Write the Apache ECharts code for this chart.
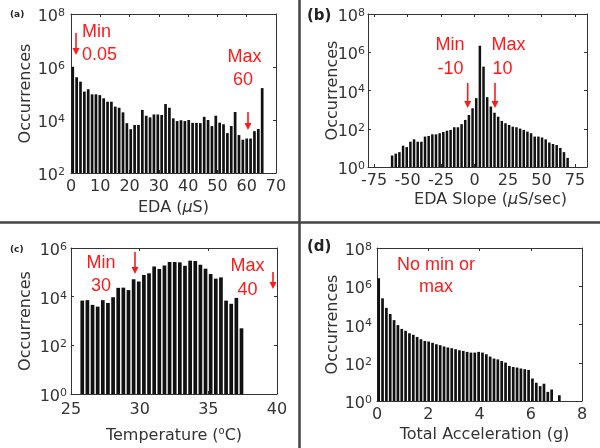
<!DOCTYPE html>
<html><head><meta charset="utf-8">
<script src="https://cdn.jsdelivr.net/npm/echarts@6/dist/echarts.min.js"></script>
<style>html,body{margin:0;padding:0;background:#fff}#c{width:600px;height:448px}</style>
</head><body><div id="c"></div>
<script>
// ---------- data (histogram bin layout + counts) ----------
// (a) EDA (uS)
const edaBinStart = 0.6, edaBinWidth = 1.32;
const edaCounts = [1020000, 410000, 280000, 118000, 145000, 93000, 93000, 87000, 66000, 49000,
  49000, 32000, 29000, 19500, 7600, 4500, 6500, 6500, 24000, 14500,
  12600, 16200, 16200, 15500, 40000, 29000, 11500, 9100, 9800, 9100,
  10000, 7800, 7800, 7600, 13200, 10000, 5900, 14500, 7900, 6900,
  3200, 5900, 20000, 2700, 1800, 2000, 2000, 3800, 4600, 160000];
const edaTicks = [0, 10, 20, 30, 40, 50, 60, 70];
// (b) EDA slope (uS/sec)
const slopeBinStart = -61.5, slopeBinWidth = 2.73;
const slopeCounts = [4, 5, 6, 13, 11, 21, 28, 21, 21, 39,
  42, 51, 51, 58, 68, 79, 87, 120, 120, 174,
  290, 525, 1175, 3980, 2190000, 178000, 4470, 1450, 690, 427,
  257, 195, 158, 129, 120, 102, 87, 71, 58, 39,
  39, 35, 28, 19, 16, 14, 10, 6, 3];
const slopeTicks = [-75, -50, -25, 0, 25, 50, 75];
// (c) Temperature (C)
const tempBinStart = 25.82, tempBinWidth = 0.374;
const tempCounts = [6900, 7200, 4600, 3900, 7200, 5500, 9500, 23000, 23500, 18600,
  52000, 42000, 78000, 91000, 174000, 138000, 190000, 263000, 263000, 257000,
  186000, 302000, 295000, 204000, 141000, 85000, 55000, 62000, 6900, 5100,
  8900, 500];
const tempTicks = [25, 30, 35, 40];
// (d) Total acceleration (g)
const accBinStart = 0.066, accBinWidth = 0.15;
const accCounts = [2630000, 234000, 74000, 35500, 17000, 9300, 5900, 4700, 3500, 2900,
  2240, 1700, 1380, 1290, 1100, 930, 830, 710, 630, 575,
  510, 450, 415, 370, 340, 340, 370, 340, 280, 210,
  166, 150, 123, 102, 68, 60, 56, 50, 46, 42,
  15, 9, 6, 8, 3, 4, 0, 2];
const accTicks = [0, 2, 4, 6, 8];
// log y ticks
const yTicks8 = [1, 1e2, 1e4, 1e6, 1e8];
const yTicks8a = [1e2, 1e4, 1e6, 1e8];
const yTicks6 = [1, 1e2, 1e4, 1e6];

// ---------- helpers ----------
const FONT = 'DejaVu Sans';
const AX = '#333';
const RED = '#ff1a1a';
function histData(start, width, counts) {
  const out = [];
  counts.forEach((c, i) => { if (c > 0) out.push([+(start + i * width).toFixed(4), c]); });
  return out;
}
const richY = {
  b: { fontFamily: FONT, fontSize: 16, color: AX, padding: [6, 0, 0, 0] },
  s: { fontFamily: FONT, fontSize: 11, color: AX, padding: [0, 0, 2, 0] }
};
function powLabel(v) { return '{b|10}{s|' + Math.round(Math.log10(v)) + '}'; }
const lineS = { color: AX, width: 1 };

const grids = [
  { left: 71, top: 14, width: 205, height: 159 },
  { left: 368, top: 14, width: 219, height: 153 },
  { left: 71, top: 248, width: 206, height: 146 },
  { left: 377, top: 248, width: 205, height: 153 }
];

const panels = [
  { x: [0, 70], xt: edaTicks, y: [1e2, 1e8], yt: yTicks8a, name: '{n|EDA (}{i|μ}{n|S)}', nameGap: 27, namePad: [0, 0, 0, 0], yGap: 37, data: histData(edaBinStart, edaBinWidth, edaCounts), bw: 2.7, ym: 6, xm: 6 },
  { x: [-79.5, 84], xt: slopeTicks, y: [1, 1e8], yt: yTicks8, name: '{n|EDA Slope (}{i|μ}{n|S/sec)}', nameGap: 25, namePad: [0, 0, 0, 26], yGap: 27, data: histData(slopeBinStart, slopeBinWidth, slopeCounts), bw: 2.5, ym: 3, xm: 6 },
  { x: [25, 40], xt: tempTicks, y: [1, 1e6], yt: yTicks6, name: '{n|Temperature (}{s|o}{n|C)}', nameGap: 32, namePad: [0, 0, 0, 0], yGap: 37, data: histData(tempBinStart, tempBinWidth, tempCounts), bw: 3.7, ym: 4, xm: 8 },
  { x: [0, 8], xt: accTicks, y: [1, 1e8], yt: yTicks8, name: '{n|Total Acceleration (g)}', nameGap: 26, namePad: [0, 0, 0, 10], yGap: 36, data: histData(accBinStart, accBinWidth, accCounts), bw: 2.7, ym: 5, xm: 6 }
];

const xAxes = [], yAxes = [], series = [];
panels.forEach((p, i) => {
  const common = { gridIndex: i, type: 'value', min: p.x[0], max: p.x[1], splitLine: { show: false },
    nameMoveOverlap: false,
    axisLine: { show: true, onZero: false, lineStyle: lineS },
    axisTick: { show: true, inside: true, length: 3, lineStyle: lineS, customValues: p.xt } };
  xAxes.push(Object.assign({}, common, {
    position: 'bottom',
    axisLabel: { customValues: p.xt, margin: p.xm, fontFamily: FONT, fontSize: 16, color: AX },
    name: p.name, nameLocation: 'middle', nameGap: p.nameGap,
    nameTextStyle: { padding: p.namePad, rich: {
      n: { fontFamily: FONT, fontSize: 16, color: AX },
      i: { fontFamily: FONT, fontSize: 16, color: AX, fontStyle: 'italic' },
      s: { fontFamily: FONT, fontSize: 10, color: AX, padding: [0, 0, 9, 0] } } }
  }));
  xAxes.push(Object.assign({}, common, { position: 'top', axisLabel: { show: false } }));
  const ycommon = { gridIndex: i, type: 'log', logBase: 10, min: p.y[0], max: p.y[1], splitLine: { show: false },
    nameMoveOverlap: false,
    axisLine: { show: true, onZero: false, lineStyle: lineS },
    axisTick: { show: true, inside: true, length: 3, lineStyle: lineS, customValues: p.yt } };
  yAxes.push(Object.assign({}, ycommon, {
    position: 'left',
    axisLabel: { customValues: p.yt, margin: p.ym, formatter: powLabel, rich: richY },
    name: 'Occurrences', nameLocation: 'middle', nameGap: p.yGap,
    nameTextStyle: { fontFamily: FONT, fontSize: 16, color: AX }
  }));
  yAxes.push(Object.assign({}, ycommon, { position: 'right', axisLabel: { show: false } }));
  series.push({ type: 'bar', xAxisIndex: 2 * i, yAxisIndex: 2 * i, data: p.data, barWidth: p.bw,
    clip: true, itemStyle: { color: '#111' }, silent: true });
});

// ---------- annotations ----------
const g = [];
function txt(x, y, s, opt) {
  g.push({ type: 'text', x: x, y: y, silent: true, style: Object.assign({ text: s, fill: RED,
    font: '18px "Liberation Sans"', align: 'center', verticalAlign: 'middle' }, opt || {}) });
}
function arrow(x, y1, y2) {
  g.push({ type: 'line', silent: true, shape: { x1: x, y1: y1, x2: x, y2: y2 - 6 }, style: { stroke: RED, lineWidth: 1.6 } });
  g.push({ type: 'polygon', silent: true, shape: { points: [[x - 3.5, y2 - 7], [x + 3.5, y2 - 7], [x, y2]] }, style: { fill: RED } });
}
function plabel(x, y, s, size) {
  g.push({ type: 'text', x: x, y: y, silent: true, style: { text: s, fill: '#222', font: 'bold ' + size + 'px "DejaVu Sans"', align: 'left', verticalAlign: 'middle' } });
}
// dividers
g.push({ type: 'line', silent: true, shape: { x1: 299.5, y1: 0, x2: 299.5, y2: 448 }, style: { stroke: '#444', lineWidth: 2.5 } });
g.push({ type: 'line', silent: true, shape: { x1: 0, y1: 222.5, x2: 600, y2: 222.5 }, style: { stroke: '#444', lineWidth: 2.5 } });
// (a)
txt(82, 32.5, 'Min', { align: 'left' }); txt(82, 55.5, '0.05', { align: 'left' }); arrow(76, 33, 55);
txt(244.5, 57.5, 'Max'); txt(243, 80.5, '60'); arrow(248, 112, 130);
// (b)
txt(450, 45.5, 'Min'); txt(450.5, 69.5, '-10'); arrow(467.7, 83, 108);
txt(508.5, 45.5, 'Max'); txt(502.5, 69.5, '10'); arrow(495, 83, 108);
// (c)
txt(101, 263.5, 'Min'); txt(101, 286.5, '30'); arrow(135, 252, 274);
txt(247.5, 266.5, 'Max'); txt(247.5, 290.5, '40'); arrow(273, 272, 289);
// (d)
txt(436, 265.5, 'No min or'); txt(436, 287.5, 'max');
plabel(10, 15, '(a)', 9); plabel(307, 16.5, '(b)', 15); plabel(10, 249.7, '(c)', 9); plabel(307, 247.3, '(d)', 15);

const chart = echarts.init(document.getElementById('c'), null, { renderer: 'canvas' });
chart.setOption({ animation: false, backgroundColor: '#fff', grid: grids, xAxis: xAxes, yAxis: yAxes, series: series, graphic: g });
</script></body></html>
